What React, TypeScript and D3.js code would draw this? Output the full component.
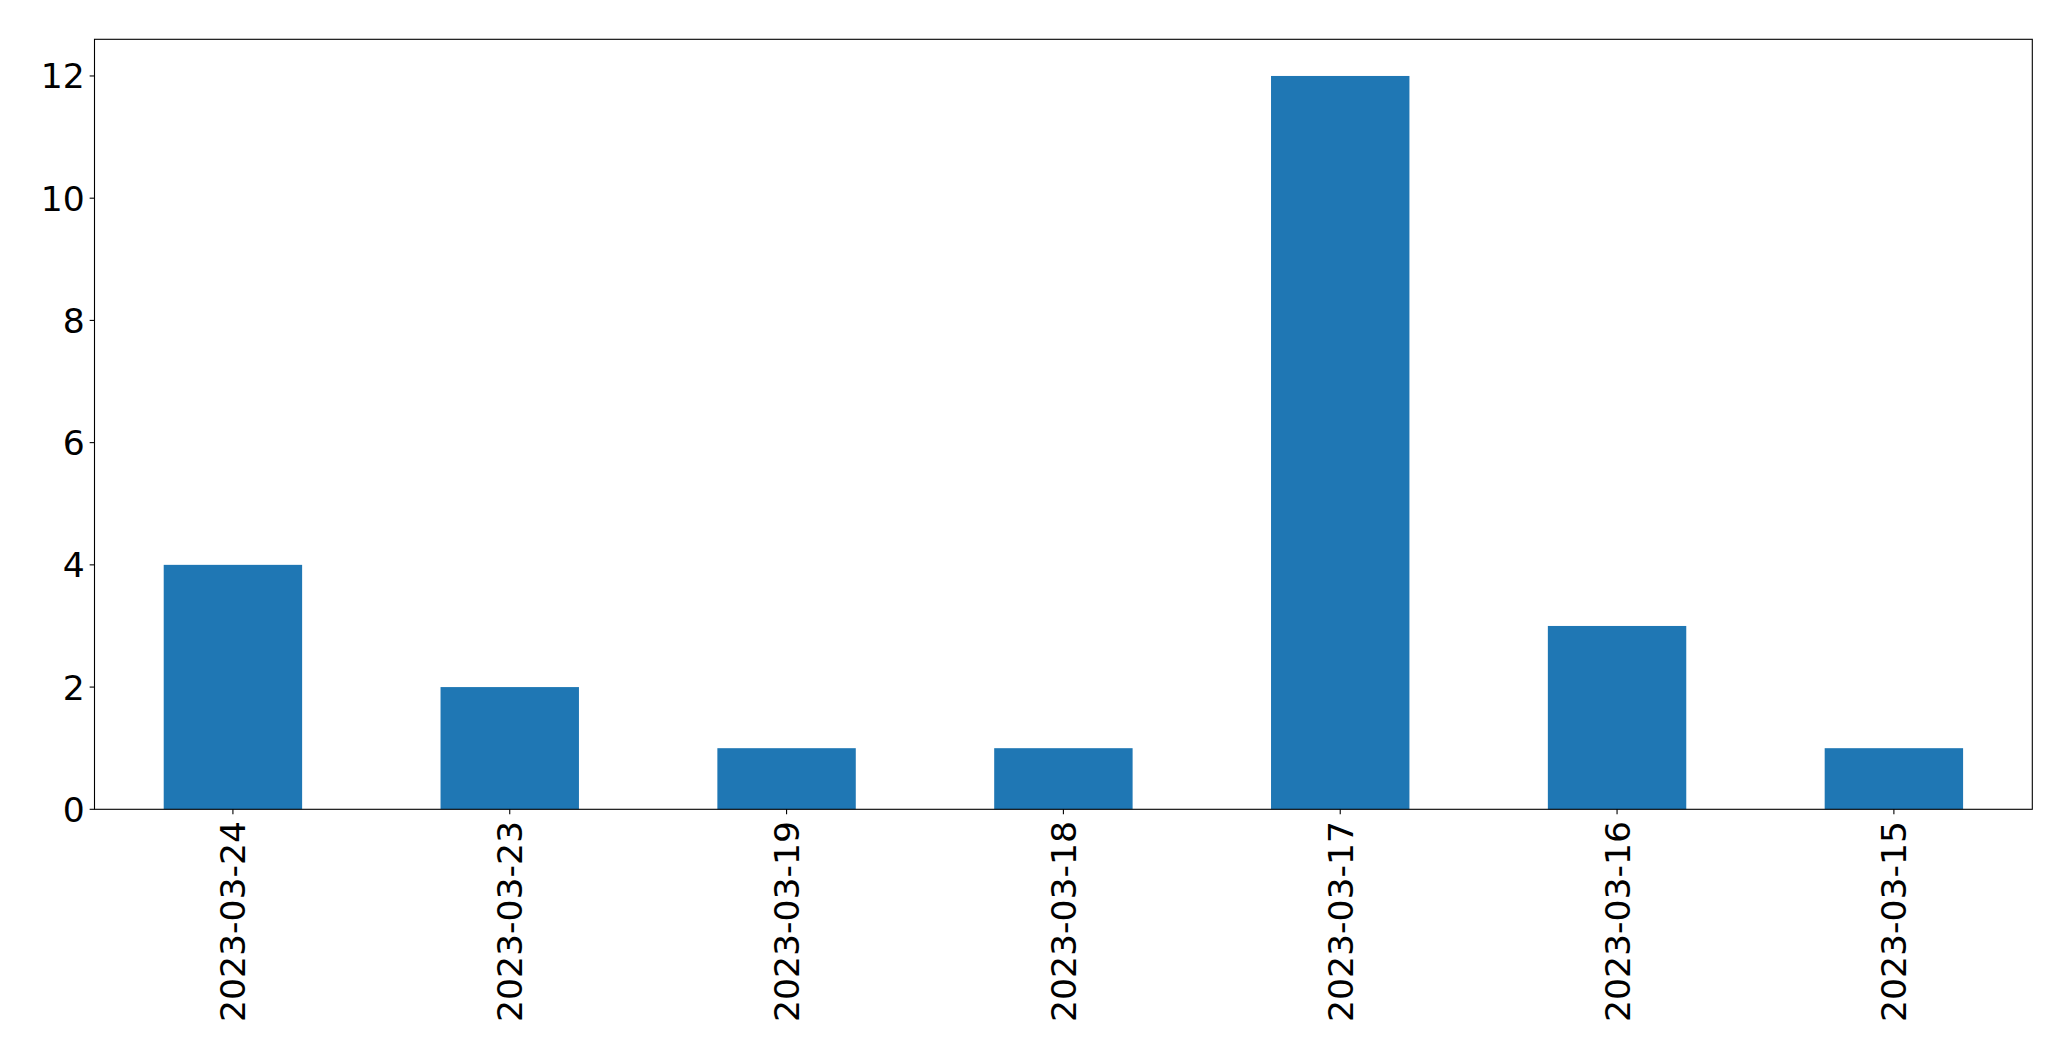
import React from "react";
import * as d3 from "d3";

const categories = ["2023-03-24", "2023-03-23", "2023-03-19", "2023-03-18", "2023-03-17", "2023-03-16", "2023-03-15"];
const values = [4, 2, 1, 1, 12, 3, 1];
const yTicks = [0, 2, 4, 6, 8, 10, 12];

const W = 2071;
const H = 1061;
const margin = { left: 94.5, right: 2032.3, top: 39.3, bottom: 809.3 };
const FONT = "'DejaVu Sans', sans-serif";
const FS = 34.6;
const TICK = 4.86;
const PAD = 4.86;

export default function App() {
  const x = d3.scaleLinear().domain([-0.5, categories.length - 0.5]).range([margin.left, margin.right]);
  const yMax = d3.max(values)! * 1.05;
  const y = d3.scaleLinear().domain([0, yMax]).range([margin.bottom, margin.top]);
  const barW = x(0.5) - x(0);

  return (
    <svg width={W} height={H} style={{ position: "absolute", left: 0, top: 0, background: "#fff" }}>
      <rect x={0} y={0} width={W} height={H} fill="#fff" />
      {values.map((v, i) => (
        <rect key={i} x={x(i) - barW / 2} y={y(v)} width={barW} height={y(0) - y(v)} fill="#1f77b4" />
      ))}
      <rect x={margin.left} y={margin.top} width={margin.right - margin.left} height={margin.bottom - margin.top}
        fill="none" stroke="#000" strokeWidth={1.1} />
      {yTicks.map((t) => (
        <g key={t}>
          <line x1={margin.left - TICK} x2={margin.left} y1={y(t)} y2={y(t)} stroke="#000" strokeWidth={1.1} />
          <text x={margin.left - TICK - PAD} y={y(t)} dy="0.36em" textAnchor="end" fontFamily={FONT} fontSize={FS} fill="#000">{t}</text>
        </g>
      ))}
      {categories.map((c, i) => (
        <g key={c}>
          <line x1={x(i)} x2={x(i)} y1={margin.bottom} y2={margin.bottom + TICK} stroke="#000" strokeWidth={1.1} />
          <text transform={`translate(${x(i)},${margin.bottom + TICK + PAD + 2}) rotate(-90)`} dy="0.36em" textAnchor="end"
            fontFamily={FONT} fontSize={FS} fill="#000">{c}</text>
        </g>
      ))}
    </svg>
  );
}
